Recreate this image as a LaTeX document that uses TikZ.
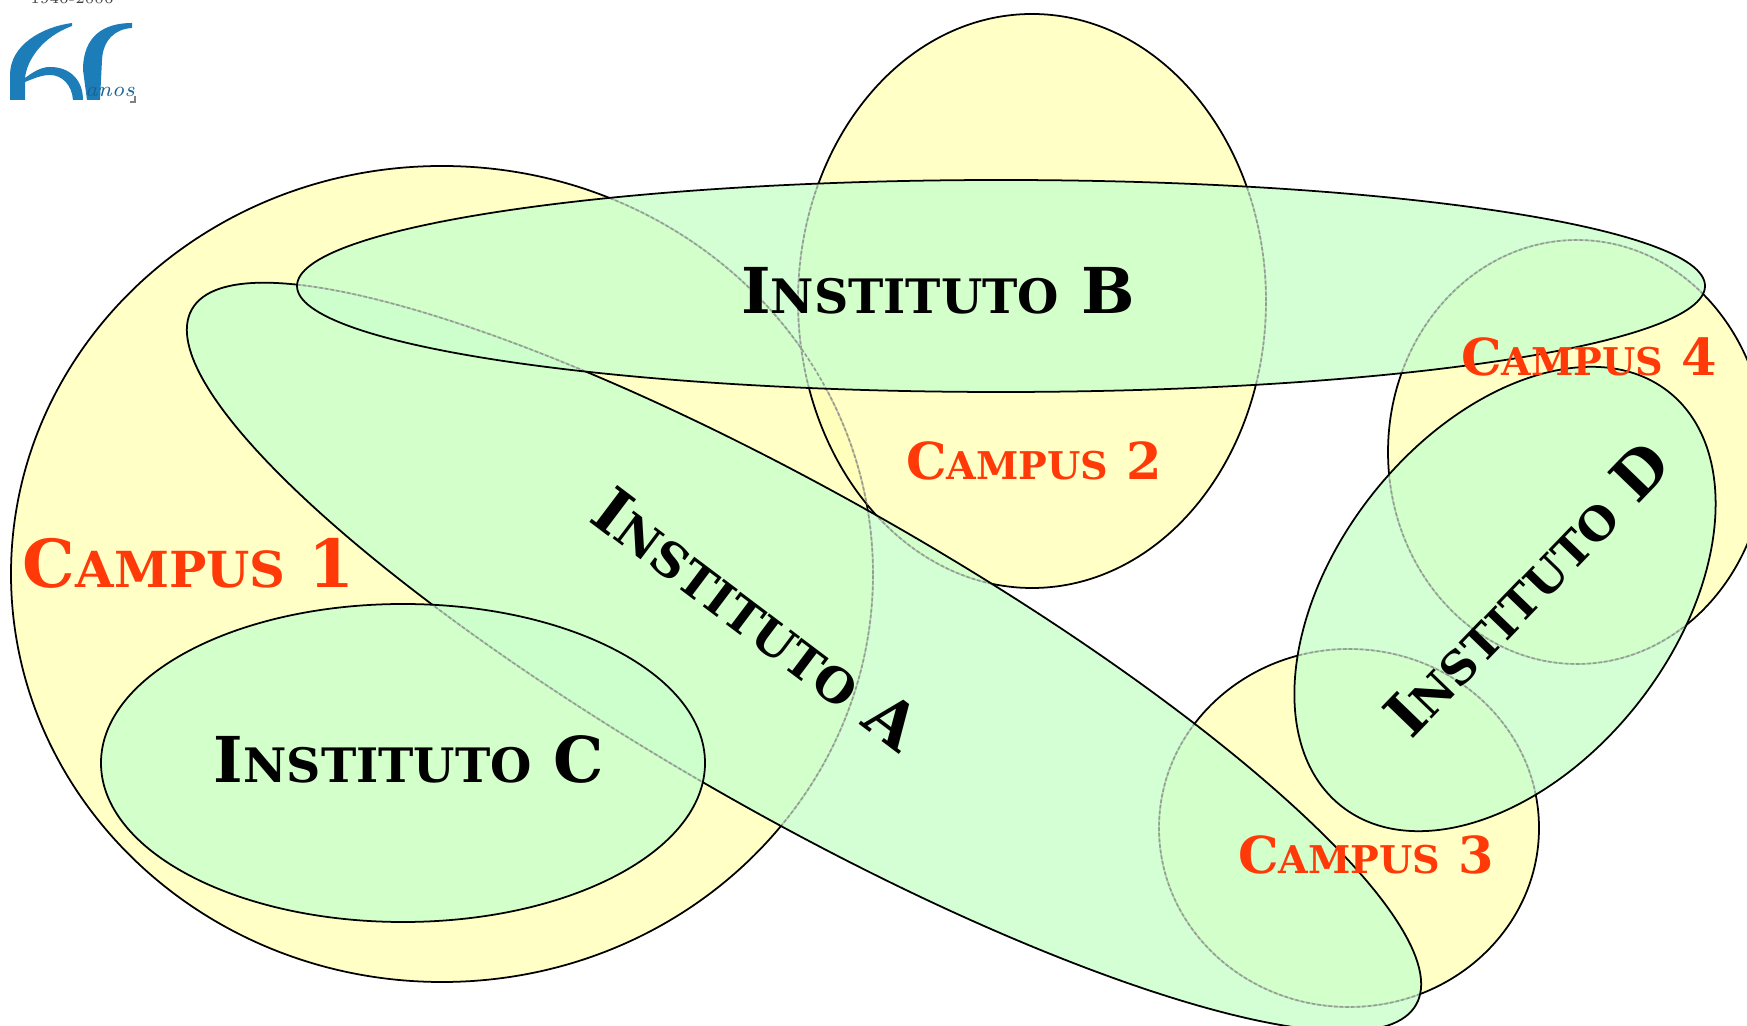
\documentclass[tikz,border=0pt]{standalone}
\usepackage{fontspec}
\newfontfamily\copperfont{DejaVu Serif}[BoldFont={DejaVu Serif Bold}]
\newcommand{\capsname}[3]{{\copperfont\bfseries #1{\fontsize{0.75em}{1em}\selectfont\MakeUppercase{#2}} #3}}
\definecolor{campusyellow}{HTML}{FFFFB8}
\definecolor{institutogreen}{HTML}{CCFFCC}
\definecolor{campusred}{HTML}{FF3A08}
\definecolor{logoblue}{HTML}{1C7DB8}
\tikzset{
    campus/.style={draw=black, line width=0.5pt, fill=campusyellow, fill opacity=0.8},
    institutofill/.style={fill=institutogreen, fill opacity=0.85},
    institutoline/.style={draw=black, line width=0.5pt},
    rimline/.style={draw=black!40, line width=0.45pt, dash pattern=on 1pt off 0.6pt},
    campuslabel/.style={text=campusred, font=\fontsize{14.5}{18}\selectfont},
    institutolabel/.style={text=black, font=\fontsize{18}{22}\selectfont},
}
%outlines that show faintly through a green ellipse
\newcommand{\rimlines}{
    \foreach \cx/\cy/\rx/\ry in {4.42/4.51/4.31/4.08, 10.32/7.24/2.34/2.87, 13.49/1.97/1.90/1.79, 15.77/5.73/1.89/2.12}
        \draw[rimline] (\cx, \cy) ellipse [x radius=\rx, y radius=\ry];
    \draw[rimline, rotate around={-29.6:(8.04, 3.68)}] (8.04, 3.68) ellipse [x radius=7.04, y radius=1.59];
}
\newcommand{\institutoblob}[5]{
    \fill[institutofill, rotate around={#5:(#1, #2)}] (#1, #2) ellipse [x radius=#3, y radius=#4];
    \begin{scope}
        \clip[rotate around={#5:(#1, #2)}] (#1, #2) ellipse [x radius=#3, y radius=#4];
        \rimlines
    \end{scope}
    \draw[institutoline, rotate around={#5:(#1, #2)}] (#1, #2) ellipse [x radius=#3, y radius=#4];
}
\begin{document}
\begin{tikzpicture}
        \useasboundingbox (0, 0) rectangle (17.47, 10.25);
        \clip (0, 0) rectangle (17.47, 10.25);
        %draw campuses
        \draw[campus] (4.42, 4.51) ellipse [x radius=4.31, y radius=4.08];
        \draw[campus] (10.32, 7.24) ellipse [x radius=2.34, y radius=2.87];
        \begin{scope}
            \clip (10.32, 7.24) ellipse [x radius=2.34, y radius=2.87];
            \draw[rimline] (4.42, 4.51) ellipse [x radius=4.31, y radius=4.08];
        \end{scope}
        \draw[campus] (13.49, 1.97) ellipse [x radius=1.90, y radius=1.79];
        \draw[campus] (15.77, 5.73) ellipse [x radius=1.89, y radius=2.12];
        %draw institutes
        \institutoblob{8.04}{3.68}{7.04}{1.59}{-29.6}
        \institutoblob{10.01}{7.39}{7.04}{1.06}{0}
        \institutoblob{4.03}{2.62}{3.02}{1.59}{0}
        \institutoblob{15.05}{4.26}{2.64}{1.69}{51.7}
        %label campuses
        \node[campuslabel, scale=1.3] (campusone) at (1.89, 4.62) {\capsname{C}{ampus}{1}};
        \node[campuslabel] (campustwo) at (10.34, 5.64) {\capsname{C}{ampus}{2}};
        \node[campuslabel] (campusthree) at (13.66, 1.70) {\capsname{C}{ampus}{3}};
        \node[campuslabel] (campusfour) at (15.89, 6.68) {\capsname{C}{ampus}{4}};
        %label institutes
        \node[institutolabel, rotate=-37] (institutoa) at (7.57, 4.06) {\capsname{I}{nstituto}{A}};
        \node[institutolabel] (institutob) at (9.38, 7.34) {\capsname{I}{nstituto}{B}};
        \node[institutolabel] (institutoc) at (4.09, 2.66) {\capsname{I}{nstituto}{C}};
        \node[institutolabel, rotate=46, scale=0.96] (institutod) at (15.27, 4.36) {\capsname{I}{nstituto}{D}};
        %draw logo
        \fill[logoblue] (0.72, 10.02) .. controls (0.42, 9.98) and (0.10, 9.80) .. (0.10, 9.50)
            -- (0.10, 9.25) -- (0.25, 9.25) -- (0.25, 9.43)
            .. controls (0.35, 9.47) and (0.42, 9.50) .. (0.50, 9.50)
            .. controls (0.62, 9.50) and (0.72, 9.40) .. (0.73, 9.25) -- (0.83, 9.25)
            .. controls (0.83, 9.45) and (0.70, 9.58) .. (0.50, 9.58)
            .. controls (0.40, 9.58) and (0.32, 9.52) .. (0.25, 9.47)
            .. controls (0.27, 9.65) and (0.42, 9.88) .. (0.72, 9.99) -- cycle;
        \fill[logoblue] (1.32, 10.02) .. controls (1.05, 10.02) and (0.83, 9.90) .. (0.83, 9.55) -- (0.87, 9.25)
            -- (1.00, 9.25) -- (1.02, 9.65) .. controls (1.03, 9.85) and (1.15, 9.96) .. (1.32, 9.97) -- cycle;
        \node[logoblue!80!black, font=\itshape\fontsize{6}{7}\selectfont, inner sep=0pt] (logoanos) at (1.10, 9.33) {anos};
        \draw[gray, line width=0.3pt] (1.30, 9.23) -- (1.35, 9.23) -- (1.35, 9.29);
        \node[black!75, font=\fontsize{4}{5}\selectfont, inner sep=0pt] (logoyears) at (0.72, 10.26) {1946-2006};
    \end{tikzpicture}
\end{document}
